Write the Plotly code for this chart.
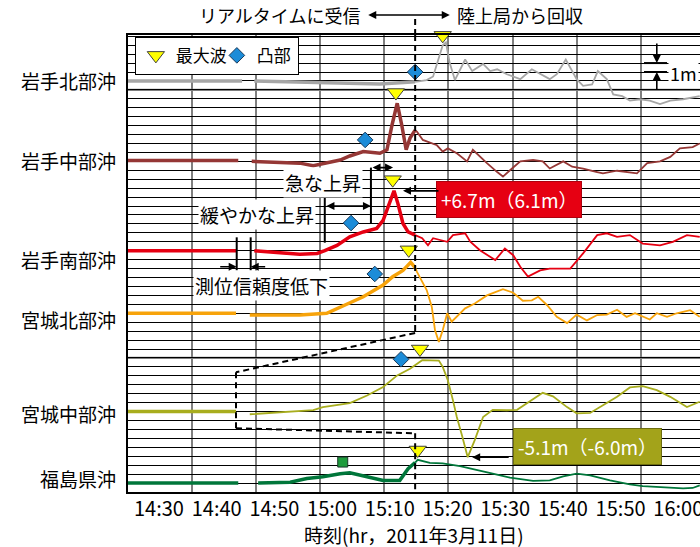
import plotly.graph_objects as go

# Stations, vertical offsets (m) and label heights on the stacked chart
STATIONS = ["岩手北部沖", "岩手中部沖", "岩手南部沖", "宮城北部沖", "宮城中部沖", "福島県沖"]
OFFSETS = [46, 37, 27, 20, 9, 1]
LABEL_Y = [46.1, 37.1, 26.0, 19.3, 8.8, 1.5]
COLORS = ["#A6A6A6", "#953735", "#E60012", "#F7A30A", "#A8AD1E", "#00763A"]

# Time in minutes after 14:00 on the gridded axis; sea level change in metres
T_IWN = [25, 42.8, None, 44.7, 51.8, 59.6, 64.3, 67.4, 69.8, 71.6, 72.6, 73.4, 74.1, 74.6, 75.2, 76.0,
         77.6, 78.7, 80.4, 81.5, 82.6, 84.1, 86.2, 88.0, 89.7, 90.8, 91.9, 93.3, 95.0, 96.0, 97.4, 98.3,
         99.7, 100.7, 102.1, 103.3, 104.9, 106.4, 108.0, 109.6, 111.6, 114.2]
H_IWN = [0, 0, None, 0, -0.1, -0.2, -0.35, -0.2, -0.1, 0.1, 0.5, 2.3, 4.0, 4.3, 2.0, 0.1,
         2.4, 1.1, 1.9, 1.1, 1.3, 0.75, 0.2, 1.3, 0.6, 0.2, 0.75, 2.4, 0.2, -0.55, -0.4, 1.1,
         0.2, -1.5, -1.7, -2.2, -2.05, -2.2, -2.6, -2.2, -2.05, -1.7]

T_IWC = [25, 42.2, None, 44.3, 48.2, 51.8, 53.9, 55.7, 58.1, 59.6, 61.7, 64.3, 65.4, 66.2, 67.0, 67.7,
         68.4, 69.0, 69.8, 70.1, 71.0, 73.2, 74.1, 74.9, 76.3, 77.3, 77.9, 78.8, 79.9, 81.0, 82.6, 83.5,
         84.6, 86.2, 88.2, 89.7, 90.8, 92.9, 94.3, 96.0, 98.2, 99.1, 101.3, 104.4, 106.0, 108.0, 109.6,
         111.1, 113.1, 114.2]
H_IWC = [0.1, 0.1, None, 0, -0.1, -0.2, -0.5, -0.2, 0.15, 0.6, 1.1, 0.9, 1.3, 4.1, 6.5, 4.1,
         1.3, 2.6, 3.5, 3.3, 2.4, 1.8, 1.1, 1.45, 0.9, 0.35, 0, 1.3, 0.5, -0.2, -1.2, -1.7,
         -1.0, 0, 0.15, 0, -0.8, 0, -0.6, -0.8, -1.2, -1.35, -1.05, -1.35, -0.2, 0, 0.5,
         1.45, 1.6, 2.0]

T_IWS = [25, 42.0, None, 44.7, 48.2, 51.8, 54.5, 55.7, 57.6, 59.6, 61.7, 63.8, 64.8, 65.6, 66.5, 67.1,
         67.9, 68.7, 69.8, 70.9, 71.8, 72.6, 73.7, 74.8, 75.7, 77.6, 78.4, 79.9, 82.3, 83.8, 85.1, 86.2,
         87.4, 89.3, 90.8, 94.0, 96.0, 98.2, 99.7, 101.3, 103.3, 105.3, 108.0, 110.0, 112.2, 114.2]
H_IWS = [0, 0, None, 0, -0.2, -0.4, -0.3, 0, 0.6, 1.55, 2.1, 2.5, 3.4, 4.9, 6.7, 5.3,
         3.05, 2.1, 1.75, 1.4, 0.6, 1.4, 1.2, 1.0, 1.75, 1.95, 1.0, 0.05, -1.05, 0.25, -0.5, -1.8,
         -2.9, -2.2, -2.0, -2.0, -0.3, 1.75, 1.95, 1.55, 1.75, 0.8, 0.6, 1.0, 1.75, 1.55]

T_MGN = [25, 41.85, None, 44.0, 51.8, 56.0, 57.6, 59.6, 61.7, 64.8, 66.3, 67.9, 69.1, 69.8, 70.1, 71.6,
         72.4, 72.9, 73.5, 74.1, 74.8, 75.5, 76.3, 77.6, 79.1, 81.0, 83.5, 85.1, 86.6, 88.0, 89.0, 90.4,
         91.9, 93.5, 95.0, 96.6, 98.2, 99.7, 101.3, 102.8, 104.1, 105.3, 106.4, 107.5, 109.1, 110.6,
         112.7, 114.2]
H_MGN = [0, 0, None, -0.2, -0.2, 0, 0.5, 1.1, 1.85, 3.15, 4.1, 4.8, 5.7, 5.1, 4.6, 2.6,
         0.7, -1.9, -3.2, -1.9, 0, -0.95, -0.4, 0.55, 1.1, 2.0, 2.7, 2.3, 1.4, 1.45, 1.85, 0.9,
         -0.4, -1.1, -0.15, -0.8, -0.2, -0.15, 0.4, -0.4, 0, -0.4, -0.7, 0, -0.4, 0,
         0.35, -0.4]

T_MGC = [25, 41.85, None, 44.0, 48.2, 51.8, 53.9, 55.4, 57.6, 59.6, 62.3, 64.8, 67.0, 69.0, 70.9, 72.6,
         73.5, 74.1, 74.9, 75.7, 76.3, 77.1, 78.0, 79.1, 80.4, 81.9, 84.1, 85.7, 87.7, 89.7, 91.3, 93.5,
         95.0, 97.1, 99.1, 101.3, 103.3, 105.3, 107.5, 109.6, 112.2, 114.2]
H_MGC = [0, 0, None, -0.3, -0.1, 0, 0.15, 0.5, 0.7, 0.95, 1.8, 2.75, 4.05, 4.8, 5.75, 5.75,
         5.7, 5.0, 3.5, 1.25, -0.6, -2.65, -5.1, -3.2, -0.6, 0.2, 0.15, 0.2, 1.1, 2.1, 1.7, 0.5,
         -0.2, -0.15, 0.7, 1.65, 2.7, 2.85, 2.4, 1.65, 0.5, 1.1]

T_FKS = [25, 42.2, None, 45.3, 50.3, 52.9, 55.4, 58.1, 59.6, 62.3, 64.8, 67.4, 68.7, 69.8, 70.2, 72.1,
         74.1, 76.8, 79.4, 81.9, 84.6, 88.2, 90.8, 92.9, 95.0, 97.1, 100.2, 103.3, 105.3, 108.5, 111.6,
         113.1, 114.2]
H_FKS = [0, 0, None, 0, 0.1, 0.5, 0.7, 1.05, 1.15, 0.7, 0.3, 0.3, 1.6, 2.3, 2.6, 2.25,
         2.2, 1.9, 1.5, 1.05, 0.6, 0.25, 0.3, 0.75, 1.05, 0.85, 0.3, -0.15, -0.35, -0.45, -0.6,
         -0.55, -0.25]

SERIES_T = [T_IWN, T_IWC, T_IWS, T_MGN, T_MGC, T_FKS]
SERIES_H = [H_IWN, H_IWC, H_IWS, H_MGN, H_MGC, H_FKS]

# End of real-time reception (minutes) per station
REALTIME_END = 69.8
MGC_REALTIME_END = 41.85
BOUNDARY = [REALTIME_END, REALTIME_END, REALTIME_END, REALTIME_END, MGC_REALTIME_END, REALTIME_END]

# Maximum wave markers (all stations) and bump markers (first five stations)
PEAK_T = [74.1, 66.8, 66.3, 68.8, 70.55, 70.2]
PEAK_H = [5.1, 7.7, 7.95, 7.1, 7.0, 3.7]
BUMP_T = [69.8, 62.0, 59.8, 63.5, 67.6]
BUMP_H = [1.0, 2.4, 3.1, 4.4, 5.85]
FKS_MARK_T = [58.5]
FKS_MARK_H = [2.35]

# Stated extremes
IWS_MAX = 6.7
MGC_MIN = -5.1

# Clock labels on the time axis (minutes after midnight)
TICK_MIN = [870, 880, 890, 900, 910, 920, 930, 940, 950, 960]
TICK_TEXT = ["14:30", "14:40", "14:50", "15:00", "15:10", "15:20", "15:30", "15:40", "15:50", "16:00"]

FONT = "Noto Sans CJK JP"
X_RANGE = [25, 114.24]
CLOCK_RANGE = [864.63, 963.76]
Y_RANGE = [0, 51.14]

fig = go.Figure()

for T, H, off, col, b in zip(SERIES_T, SERIES_H, OFFSETS, COLORS, BOUNDARY):
    tx, ty, nx, ny = [], [], [], []
    for t, h in zip(T, H):
        if t is None:
            tx.append(None); ty.append(None); nx.append(None); ny.append(None)
            continue
        if t <= b:
            tx.append(t); ty.append(off + h)
        if t >= b:
            nx.append(t); ny.append(off + h)
    fig.add_trace(go.Scatter(x=tx, y=ty, mode="lines", line=dict(color=col, width=3.5),
                             showlegend=False, hoverinfo="skip"))
    fig.add_trace(go.Scatter(x=nx, y=ny, mode="lines", line=dict(color=col, width=1.8),
                             showlegend=False, hoverinfo="skip"))

fig.add_trace(go.Scatter(
    x=PEAK_T, y=[o + h for o, h in zip(OFFSETS, PEAK_H)], mode="markers", name="最大波",
    cliponaxis=False,
    marker=dict(symbol="triangle-down", size=15, color="#FFFF00", line=dict(color="#404040", width=1))))
fig.add_trace(go.Scatter(
    x=BUMP_T, y=[o + h for o, h in zip(OFFSETS, BUMP_H)], mode="markers", name="凸部",
    cliponaxis=False,
    marker=dict(symbol="diamond", size=12, color="#1C8CD8", line=dict(color="#1A3A5A", width=1))))
fig.add_trace(go.Scatter(
    x=FKS_MARK_T, y=[OFFSETS[5] + h for h in FKS_MARK_H], mode="markers", showlegend=False,
    marker=dict(symbol="square", size=10, color="#1E9B3C", line=dict(color="#1A3A2A", width=1))))

# Empty trace that activates the clock axis carrying the time labels
fig.add_trace(go.Scatter(x=[TICK_MIN[0], TICK_MIN[-1]], y=[None, None], xaxis="x2", yaxis="y",
                         mode="lines", showlegend=False, hoverinfo="skip"))

# Heavier reference lines
shapes = []
for yv in (15, 45):
    shapes.append(dict(type="line", xref="paper", yref="y", x0=0, x1=1, y0=yv, y1=yv,
                       line=dict(color="#7F7F7F", width=2.2), layer="between"))

dash = dict(color="black", width=2, dash="6px,4px")
# boundary between real-time and recovered data
shapes += [
    dict(type="line", xref="x", yref="paper", x0=REALTIME_END, x1=REALTIME_END, y0=1, y1=1.044, line=dash),
    dict(type="line", xref="x", yref="y", x0=REALTIME_END, x1=REALTIME_END, y0=Y_RANGE[1], y1=17.8, line=dash),
    dict(type="line", xref="x", yref="y", x0=REALTIME_END, x1=MGC_REALTIME_END, y0=17.8, y1=13.4, line=dash),
    dict(type="line", xref="x", yref="y", x0=MGC_REALTIME_END, x1=MGC_REALTIME_END, y0=13.4, y1=7.13, line=dash),
    dict(type="line", xref="x", yref="y", x0=MGC_REALTIME_END, x1=REALTIME_END, y0=7.13, y1=6.57, line=dash),
    dict(type="line", xref="x", yref="y", x0=REALTIME_END, x1=REALTIME_END, y0=6.57, y1=0, line=dash),
]
solid = dict(color="black", width=2)
shapes += [
    # gap brackets (positioning reliability drop)
    dict(type="line", xref="x", yref="y", x0=41.96, x1=41.96, y0=28.5, y1=24.8, line=solid),
    dict(type="line", xref="x", yref="y", x0=44.14, x1=44.14, y0=28.5, y1=24.8, line=solid),
    # gradual / rapid rise brackets
    dict(type="line", xref="x", yref="y", x0=55.7, x1=55.7, y0=33.0, y1=27.9, line=solid),
    dict(type="line", xref="x", yref="y", x0=62.9, x1=62.9, y0=36.3, y1=30.0, line=solid),
    # 1 m scale bar
    dict(type="line", xref="x", yref="y", x0=105.5, x1=109.1, y0=48, y1=48, line=solid),
    dict(type="line", xref="x", yref="y", x0=105.5, x1=109.1, y0=47, y1=47, line=solid),
]

ann = []
for name, ly in zip(STATIONS, LABEL_Y):
    ann.append(dict(text=name, xref="paper", yref="y", x=-0.0175, y=ly, xanchor="right",
                    yanchor="middle", showarrow=False, font=dict(size=19)))


def arrow(x, y, ax, ay, both=False, yref="y"):
    d = dict(text="", xref="x", yref=yref, x=x, y=y, ax=ax, ay=ay, showarrow=True,
             arrowhead=2, arrowsize=1, arrowwidth=1.6, arrowcolor="black")
    if both:
        d.update(arrowside="end+start", startarrowhead=2, startarrowsize=1)
    return d


ann += [
    dict(text="リアルタイムに受信", xref="x", yref="paper", x=61.5, y=1.0438, xanchor="right",
         yanchor="middle", showarrow=False, font=dict(size=18)),
    dict(text="陸上局から回収", xref="x", yref="paper", x=76.0, y=1.0438, xanchor="left",
         yanchor="middle", showarrow=False, font=dict(size=18)),
    arrow(75.2, 1.0438, -83, 0, both=True, yref="paper"),
    dict(text="緩やかな上昇", xref="x", yref="y", x=45.1, y=31.1, showarrow=False,
         bgcolor="white", font=dict(size=19)),
    arrow(62.9, 32.0, -46, 0, both=True),
    dict(text="急な上昇", xref="x", yref="y", x=55.4, y=34.6, showarrow=False,
         bgcolor="white", font=dict(size=19)),
    arrow(66.35, 36.3, -22, 0, both=True),
    dict(text="測位信頼度低下", xref="x", yref="y", x=45.9, y=23.1, showarrow=False,
         bgcolor="white", font=dict(size=19)),
    arrow(41.96, 25.2, -18, 0),
    arrow(44.14, 25.2, 16, 0),
    dict(text=f"+{IWS_MAX}m（6.1m）", xref="x", yref="y", x=84.4, y=32.7, showarrow=False,
         bgcolor="#E60012", bordercolor="#B0000E", borderwidth=1, borderpad=4,
         font=dict(size=19, color="white")),
    arrow(67.9, OFFSETS[2] + IWS_MAX, 37, 0),
    dict(text=f"{MGC_MIN}m（-6.0m）", xref="x", yref="y", x=96.7, y=5.1, showarrow=False,
         bgcolor="#A3A31A", bordercolor="#6E6E10", borderwidth=1, borderpad=4,
         font=dict(size=19, color="white")),
    arrow(78.7, OFFSETS[4] + MGC_MIN, 38, 0),
    arrow(107.5, 48, 0, -21),
    arrow(107.5, 47, 0, 19),
    dict(text="1m", xref="x", yref="y", x=111.6, y=46.9, showarrow=False,
         bgcolor="white", font=dict(size=18)),
    dict(text="時刻(hr，2011年3月11日)", xref="paper", yref="paper", x=0.5, y=-0.0935,
         yanchor="middle", showarrow=False, font=dict(size=19)),
]

fig.update_layout(
    width=700, height=547,
    margin=dict(l=128, r=0, t=35, b=55, autoexpand=False),
    paper_bgcolor="white", plot_bgcolor="white",
    font=dict(family=FONT, color="black"),
    shapes=shapes, annotations=ann,
    legend=dict(orientation="h", x=0.012, y=0.996, xanchor="left", yanchor="top",
                bgcolor="white", bordercolor="black", borderwidth=1, font=dict(size=17),
                itemwidth=30, entrywidth=36, tracegroupgap=0),
    xaxis=dict(range=X_RANGE, tick0=5, dtick=10, showgrid=True, gridcolor="#7F7F7F", gridwidth=2,
               showticklabels=False, ticks="", zeroline=False, showline=True, linecolor="black",
               linewidth=2, mirror=True, automargin=False),
    xaxis2=dict(overlaying="x", anchor="y", side="bottom", range=CLOCK_RANGE,
                tickmode="array", tickvals=TICK_MIN, ticktext=TICK_TEXT, showgrid=False,
                zeroline=False, showline=False, ticks="", ticklabelstandoff=3,
                ticklabeloverflow="allow", automargin=False, tickfont=dict(size=20)),
    yaxis=dict(range=Y_RANGE, tick0=0, dtick=1, showgrid=True, gridcolor="black", gridwidth=1,
               showticklabels=False, ticks="", zeroline=False, showline=True, linecolor="black",
               linewidth=2, automargin=False),
)

fig.write_html("out.html")
